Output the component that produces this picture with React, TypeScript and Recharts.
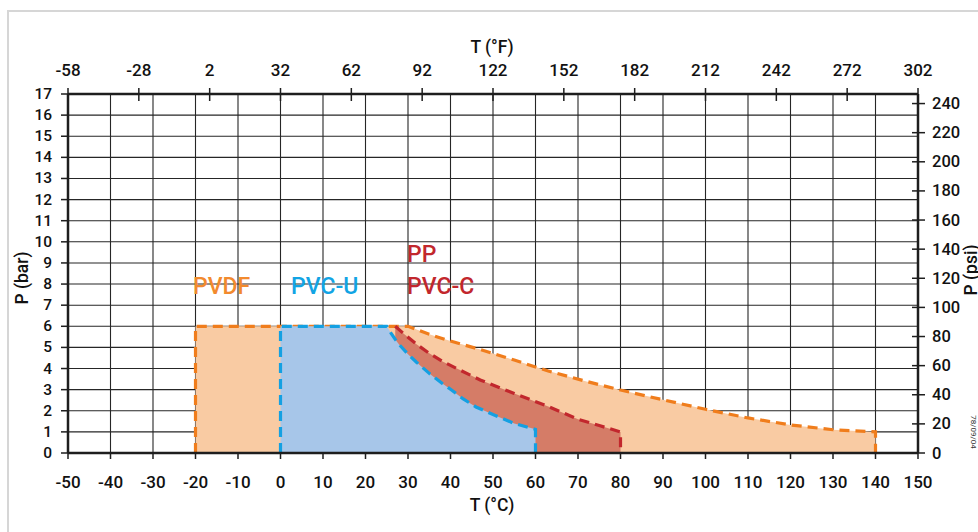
import React from 'react';
import { ComposedChart, Area, XAxis, YAxis, CartesianGrid } from 'recharts';

// ---- Data ----
const pvdfT = [-20, -20, 30, 35, 40, 47, 55, 63, 72, 80, 90, 100, 110, 120, 130, 140, 140];
const pvdfP = [0, 6, 6, 5.62, 5.3, 4.9, 4.4, 3.88, 3.39, 2.98, 2.52, 2.07, 1.66, 1.33, 1.1, 1.0, 0];

const pvcuT = [0, 0, 25, 26, 27, 28, 30, 32, 35, 38, 40, 43, 46, 50, 55, 60, 60];
const pvcuP = [0, 6, 6, 5.68, 5.38, 5.12, 4.68, 4.3, 3.77, 3.3, 3.02, 2.56, 2.18, 1.82, 1.4, 1.12, 0];

const ppT = [27, 29, 32, 35, 38, 42, 47, 55, 63, 70, 75, 80, 80];
const ppP = [6, 5.65, 5.15, 4.72, 4.35, 3.95, 3.46, 2.82, 2.2, 1.6, 1.3, 1.0, 0];

const celsiusTicks = [-50, -40, -30, -20, -10, 0, 10, 20, 30, 40, 50, 60, 70, 80, 90, 100, 110, 120, 130, 140, 150];
const fahrenheitTicks = [-58, -28, 2, 32, 62, 92, 122, 152, 182, 212, 242, 272, 302];
const barTicks = [0, 1, 2, 3, 4, 5, 6, 7, 8, 9, 10, 11, 12, 13, 14, 15, 16, 17];
const psiTicks = [0, 20, 40, 60, 80, 100, 120, 140, 160, 180, 200, 220, 240];

const BAR_MAX = 17;
const PSI_PER_BAR = 14.5038;

// ---- Build merged dataset ----
type Row = { t: number; pvdf?: number; pvcu?: number; pp?: number };
const rows: Row[] = [];
pvdfT.forEach((t, i) => rows.push({ t, pvdf: pvdfP[i] }));
pvcuT.forEach((t, i) => rows.push({ t, pvcu: pvcuP[i] }));
ppT.forEach((t, i) => rows.push({ t, pp: ppP[i] }));
const data = rows
  .map((r, idx) => ({ r, idx }))
  .sort((a, b) => (a.r.t - b.r.t) || (a.idx - b.idx))
  .map((o) => o.r);

const FONT = 'Roboto, "DejaVu Sans", sans-serif';
const AXIS = '#1e1e1e';
const TW = 500;

const BottomTick = (props: any) => {
  const { x, y, payload } = props;
  return (
    <g>
      <line x1={x} y1={y - 1} x2={x} y2={y + 6} stroke={AXIS} strokeWidth={1.5} />
      <text x={x} y={y + 29} textAnchor="middle" dominantBaseline="central" fontSize={17} fontWeight={TW} fontFamily={FONT} fill="#111">
        {payload.value}
      </text>
    </g>
  );
};

const TopTick = (props: any) => {
  const { x, y, payload } = props;
  return (
    <g>
      <line x1={x} y1={y - 6} x2={x} y2={y + 7} stroke={AXIS} strokeWidth={1.5} />
      <text x={x} y={y - 24} textAnchor="middle" dominantBaseline="central" fontSize={17} fontWeight={TW} fontFamily={FONT} fill="#111">
        {payload.value}
      </text>
    </g>
  );
};

const LeftTick = (props: any) => {
  const { x, y, payload } = props;
  return (
    <g>
      <line x1={x - 7} y1={y} x2={x} y2={y} stroke={AXIS} strokeWidth={1.5} />
      <text x={x - 16} y={y} textAnchor="end" dominantBaseline="central" fontSize={15.5} fontWeight={TW} fontFamily={FONT} fill="#111">
        {payload.value}
      </text>
    </g>
  );
};

const RightTick = (props: any) => {
  const { x, y, payload } = props;
  return (
    <g>
      <line x1={x - 6} y1={y} x2={x + 7} y2={y} stroke={AXIS} strokeWidth={1.5} />
      <text x={x + 14} y={y} textAnchor="start" dominantBaseline="central" fontSize={16.5} fontWeight={TW} fontFamily={FONT} fill="#111">
        {payload.value}
      </text>
    </g>
  );
};

export default function App() {
  const W = 978;
  const H = 532;
  return (
    <div style={{ position: 'absolute', left: 0, top: 0, width: W, height: H, background: '#fff', overflow: 'hidden' }}>
      <ComposedChart
        width={W}
        height={H}
        data={data}
        margin={{ top: 64, right: 28, bottom: 49, left: 38 }}
      >
        <CartesianGrid xAxisId="c" yAxisId="bar" stroke="#262626" strokeWidth={1.1} />
        <XAxis
          xAxisId="c"
          dataKey="t"
          type="number"
          domain={[-50, 150]}
          ticks={celsiusTicks}
          allowDataOverflow
          interval={0}
          orientation="bottom"
          height={30}
          tickSize={0}
          tickMargin={0}
          tickLine={false}
          axisLine={{ stroke: AXIS, strokeWidth: 2.5 }}
          tick={<BottomTick />}
        />
        <XAxis
          xAxisId="f"
          dataKey="t"
          type="number"
          domain={[-58, 302]}
          ticks={fahrenheitTicks}
          allowDataOverflow
          interval={0}
          orientation="top"
          height={30}
          tickSize={0}
          tickMargin={0}
          tickLine={false}
          axisLine={{ stroke: AXIS, strokeWidth: 2.5 }}
          tick={<TopTick />}
        />
        <YAxis
          yAxisId="bar"
          type="number"
          domain={[0, BAR_MAX]}
          ticks={barTicks}
          allowDataOverflow
          interval={0}
          orientation="left"
          width={30}
          tickSize={0}
          tickMargin={0}
          tickLine={false}
          axisLine={{ stroke: AXIS, strokeWidth: 2.5 }}
          tick={<LeftTick />}
        />
        <YAxis
          yAxisId="psi"
          type="number"
          domain={[0, BAR_MAX * PSI_PER_BAR]}
          ticks={psiTicks}
          allowDataOverflow
          interval={0}
          orientation="right"
          width={32}
          tickSize={0}
          tickMargin={0}
          tickLine={false}
          axisLine={{ stroke: AXIS, strokeWidth: 2.5 }}
          tick={<RightTick />}
        />
        <Area
          xAxisId="c"
          yAxisId="bar"
          dataKey="pvdf"
          type="linear"
          connectNulls
          baseValue={0}
          fill="#f9cba3"
          fillOpacity={1}
          stroke="#f07d1c"
          strokeWidth={3.2}
          strokeDasharray="10 6"
          isAnimationActive={false}
          dot={false}
          activeDot={false}
        />
        <Area
          xAxisId="c"
          yAxisId="bar"
          dataKey="pp"
          type="linear"
          connectNulls
          baseValue={0}
          fill="#d57c67"
          fillOpacity={1}
          stroke="#c2272d"
          strokeWidth={3.2}
          strokeDasharray="10 6"
          isAnimationActive={false}
          dot={false}
          activeDot={false}
        />
        <Area
          xAxisId="c"
          yAxisId="bar"
          dataKey="pvcu"
          type="linear"
          connectNulls
          baseValue={0}
          fill="#a7c6e9"
          fillOpacity={1}
          stroke="#14a0e2"
          strokeWidth={3.2}
          strokeDasharray="10 6"
          isAnimationActive={false}
          dot={false}
          activeDot={false}
        />
      </ComposedChart>
      <svg
        width={W}
        height={H}
        style={{ position: 'absolute', left: 0, top: 0, pointerEvents: 'none' }}
      >
        <line x1={8} y1={10} x2={8} y2={H} stroke="#d6d6d6" strokeWidth={2} />
        <line x1={7} y1={11} x2={W} y2={11} stroke="#d6d6d6" strokeWidth={2} />
        <text x={492} y={47} textAnchor="middle" dominantBaseline="central" fontSize={17.5} fontWeight={TW} fontFamily={FONT} fill="#111">T (°F)</text>
        <text x={492} y={505} textAnchor="middle" dominantBaseline="central" fontSize={17.5} fontWeight={TW} fontFamily={FONT} fill="#111">T (°C)</text>
        <text x={0} y={0} transform="translate(22,278) rotate(-90)" textAnchor="middle" dominantBaseline="central" fontSize={17.5} fontWeight={TW} fontFamily={FONT} fill="#111">P (bar)</text>
        <text x={0} y={0} transform="translate(971,270) rotate(-90)" textAnchor="middle" dominantBaseline="central" fontSize={17.5} fontWeight={TW} fontFamily={FONT} fill="#111">P (psi)</text>
        <text x={0} y={0} transform="translate(973,432) rotate(90)" textAnchor="middle" dominantBaseline="central" fontSize={8} fontFamily={FONT} fill="#333">78/09/04</text>
        <text x={193} y={294} fontSize={23} fontWeight={500} fontFamily={FONT} fill="#f28a2e">PVDF</text>
        <text x={291} y={294} fontSize={23} fontWeight={500} fontFamily={FONT} fill="#12a4e4">PVC-U</text>
        <text x={407} y={262} fontSize={23} fontWeight={500} fontFamily={FONT} fill="#c2272d">PP</text>
        <text x={407} y={294} fontSize={23} fontWeight={500} fontFamily={FONT} fill="#c2272d">PVC-C</text>
      </svg>
    </div>
  );
}
